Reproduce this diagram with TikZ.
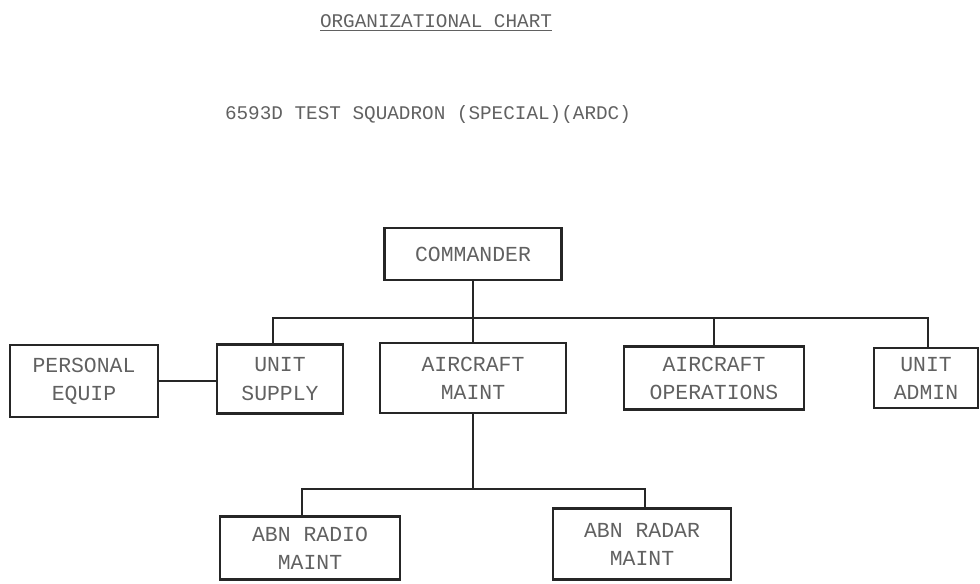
\documentclass[tikz,border=0pt]{standalone}
\usepackage{fontspec}
\newfontfamily\typewr{Liberation Mono}
\usetikzlibrary{calc}
\tikzset{
  unit box/.style={
    draw=black!85,
    line width=1.2pt,
    align=center,
    inner sep=0pt,
    text=black!62,
    font=\typewr\fontsize{12.2}{16}\selectfont
  },
  link/.style={
    draw=black!85,
    line width=1.2pt
  },
  heading/.style={
    text=black!62,
    font=\typewr\fontsize{11}{14}\selectfont
  }
}
\begin{document}
\begin{tikzpicture}[x=0.02cm, y=-0.02cm]
    % 1 unit = 1 pixel of the page
    \useasboundingbox (0,0) rectangle (980,583);

    % titles
    \node[heading] (title) at (436,23) {\underline{ORGANIZATIONAL CHART}};
    \node[heading] (squadron) at (428,114) {6593D TEST SQUADRON (SPECIAL)(ARDC)};

    % top
    \node[unit box, minimum width=3.54cm, minimum height=1.04cm] (cmdr) at (473,254) {COMMANDER};

    % second row
    \node[unit box, minimum width=2.96cm, minimum height=1.44cm] (pequip) at (84,381) {PERSONAL\\EQUIP};
    \node[unit box, minimum width=2.52cm, minimum height=1.38cm] (usupply) at (280,379) {UNIT\\SUPPLY};
    \node[unit box, minimum width=3.72cm, minimum height=1.40cm] (acmaint) at (473,378) {AIRCRAFT\\MAINT};
    \node[unit box, minimum width=3.60cm, minimum height=1.26cm] (acops) at (714,378) {AIRCRAFT\\OPERATIONS};
    \node[unit box, minimum width=2.08cm, minimum height=1.20cm] (uadmin) at (926,378) {UNIT\\ADMIN};

    % third row
    \node[unit box, minimum width=3.60cm, minimum height=1.26cm] (radio) at (310,548) {ABN RADIO\\MAINT};
    \node[unit box, minimum width=3.56cm, minimum height=1.42cm] (radar) at (642,544) {ABN RADAR\\MAINT};

    % upper bus
    \coordinate (busL) at (273,318);
    \coordinate (busR) at (928,318);
    \draw[link] (busL |- usupply.north) -- (busL) -- (busR) -- (busR |- uadmin.north);
    \draw[link] (cmdr.south) -- (acmaint.north);
    \draw[link] (acops.north) -- (acops.north |- busL);
    \draw[link] (pequip.east) -- (pequip.east -| usupply.west);

    % lower bus
    \coordinate (subL) at (302,489);
    \coordinate (subR) at (645,489);
    \draw[link] (acmaint.south) -- (acmaint.south |- subL);
    \draw[link] (subL |- radio.north) -- (subL) -- (subR) -- (subR |- radar.north);
\end{tikzpicture}
\end{document}
